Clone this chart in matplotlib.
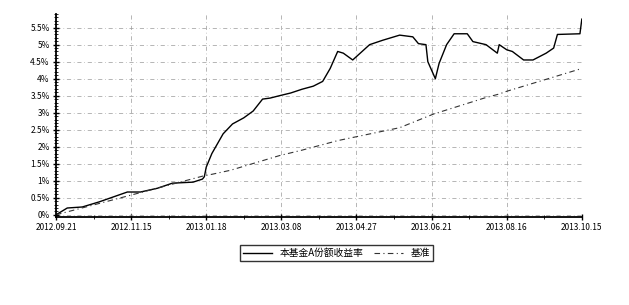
import matplotlib
matplotlib.use("Agg")
import matplotlib.pyplot as plt
from matplotlib.ticker import MultipleLocator, FuncFormatter

plt.rcParams['font.family'] = ['Noto Sans CJK SC', 'DejaVu Sans']

# x axis = trading-day index, one label every 40 days
tick_days = [0, 40, 80, 120, 160, 200, 240, 280]
tick_labels = ["2012.09.21", "2012.11.15", "2013.01.18", "2013.03.08",
               "2013.04.27", "2013.06.21", "2013.08.16", "2013.10.15"]

# fund return (%)
fund_days = [0, 6, 14, 23, 38, 45, 54, 62, 73, 78, 79, 80, 83, 89, 94, 100,
             105, 110, 114, 119, 125, 131, 137, 142, 146, 150, 153, 158, 163,
             167, 174, 183, 190, 193, 197, 198, 202, 204, 208, 212, 219, 222,
             229, 235, 236, 240, 243, 249, 254, 261, 265, 267, 279, 280]
fund_vals = [0.0, 0.2, 0.23, 0.38, 0.67, 0.67, 0.78, 0.93, 0.96, 1.05, 1.12,
             1.4, 1.8, 2.38, 2.67, 2.85, 3.05, 3.4, 3.43, 3.5, 3.58, 3.69,
             3.78, 3.92, 4.3, 4.8, 4.75, 4.55, 4.8, 5.0, 5.13, 5.28, 5.23,
             5.03, 5.0, 4.5, 4.0, 4.45, 5.0, 5.32, 5.32, 5.09, 5.0, 4.75,
             5.0, 4.85, 4.8, 4.55, 4.55, 4.75, 4.9, 5.3, 5.32, 5.75]

# benchmark return (%)
bench_days = [0, 40, 79, 83, 93, 119, 131, 150, 183, 201, 228, 236, 240, 280]
bench_vals = [0.0, 0.58, 1.15, 1.19, 1.31, 1.74, 1.9, 2.18, 2.56, 2.96, 3.43,
              3.55, 3.63, 4.3]

fig = plt.figure(figsize=(6.29, 3.05), dpi=100)
ax = fig.add_axes([0.089, 0.289, 0.836, 0.665])

ax.plot(fund_days, fund_vals, color="black", lw=1.0,
        label="本基金A份额收益率")
ax.plot(bench_days, bench_vals, color="#333333", lw=0.8,
        linestyle=(0, (5, 3, 1, 3)), label="基准")

ax.set_xlim(0, 280)
ax.set_ylim(-0.06, 5.9)
ax.set_xticks(tick_days)
ax.set_xticklabels(tick_labels)
ax.xaxis.set_minor_locator(MultipleLocator(20))
ax.yaxis.set_major_locator(MultipleLocator(0.5))
ax.yaxis.set_minor_locator(MultipleLocator(0.1))
ax.yaxis.set_major_formatter(FuncFormatter(lambda v, p: f"{v:g}%"))

ax.tick_params(axis="both", which="major", labelsize=6, direction="inout",
               length=5, width=1, pad=2)
ax.tick_params(axis="both", which="minor", direction="inout", length=3,
               width=0.6)

for side in ["top", "right"]:
    ax.spines[side].set_visible(False)
for side in ["left", "bottom"]:
    ax.spines[side].set_linewidth(1.3)

ax.grid(True, which="major", color="#999999", lw=0.5,
        linestyle=(0, (6, 4, 1, 4)))

leg = fig.legend(loc="center", bbox_to_anchor=(0.535, 0.17), ncol=2,
                 fontsize=7, frameon=True, fancybox=False,
                 edgecolor="black", handlelength=3, columnspacing=1.0,
                 borderpad=0.3)
leg.get_frame().set_linewidth(1.0)

fig.savefig("out.png", dpi=100)
